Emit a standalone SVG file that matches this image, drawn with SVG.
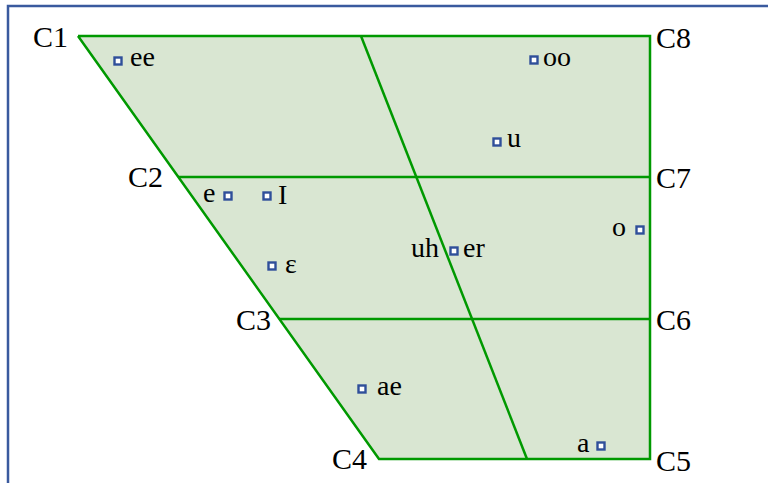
<svg xmlns="http://www.w3.org/2000/svg" width="768" height="483" viewBox="0 0 768 483">
<style>
.frame{fill:none;stroke:#3A5A9E;stroke-width:2.5}
.area{fill:#D9E6D2;stroke:none}
.ln{fill:none;stroke:#009900;stroke-width:2.5;stroke-linejoin:miter}
.mk{fill:#fff;stroke:#2F4F9A;stroke-width:2.4}
.cl{font-size:30px;fill:#000}
.vl{font-size:28px;fill:#000}
</style>
<rect width="768" height="483" fill="#fff"/>
<path class="frame" d="M8,490 V6 H770"/>
<g id="chart">
<polygon class="area" points="78,36 650,36 650,459 379,459"/>
</g>
<g id="connectors">
<polyline class="ln" points="78,36 650,36 650,459 379,459 78,36"/>
<line class="ln" x1="178" y1="177" x2="650" y2="177"/>
<line class="ln" x1="279" y1="319" x2="650" y2="319"/>
<line class="ln" x1="361" y1="36" x2="527" y2="459"/>
</g>
<g font-family="'Liberation Serif', 'Times New Roman', serif">
<g id="corners">
<text class="cl" x="33" y="47">C1</text>
<text class="cl" x="656" y="48">C8</text>
<text class="cl" x="128" y="187">C2</text>
<text class="cl" x="656" y="188">C7</text>
<text class="cl" x="236" y="330">C3</text>
<text class="cl" x="656" y="330">C6</text>
<text class="cl" x="332" y="469">C4</text>
<text class="cl" x="656" y="471">C5</text>
</g>
<g id="ee"><rect class="mk" x="114.5" y="57.5" width="7" height="7"/><text class="vl" x="130" y="66">ee</text></g>
<g id="oo"><rect class="mk" x="530.5" y="56.5" width="7" height="7"/><text class="vl" x="543" y="66">oo</text></g>
<g id="u"><rect class="mk" x="493.5" y="138.5" width="7" height="7"/><text class="vl" x="507" y="147">u</text></g>
<g id="e"><rect class="mk" x="224.5" y="192.5" width="7" height="7"/><text class="vl" x="203" y="202">e</text></g>
<g id="I"><rect class="mk" x="263.5" y="192.5" width="7" height="7"/><text class="vl" x="278" y="204">I</text></g>
<g id="epsilon"><rect class="mk" x="268.5" y="262.5" width="7" height="7"/><text class="vl" x="285" y="273">ε</text></g>
<g id="uh-er"><rect class="mk" x="450.5" y="247.5" width="7" height="7"/><text class="vl" x="411" y="257">uh</text><text class="vl" x="463" y="257">er</text></g>
<g id="o"><rect class="mk" x="636.5" y="226.5" width="7" height="7"/><text class="vl" x="612" y="236">o</text></g>
<g id="ae"><rect class="mk" x="358.5" y="385.5" width="7" height="7"/><text class="vl" x="377" y="395">ae</text></g>
<g id="a"><rect class="mk" x="597.5" y="442.5" width="7" height="7"/><text class="vl" x="577" y="452">a</text></g>
</g>
</svg>
